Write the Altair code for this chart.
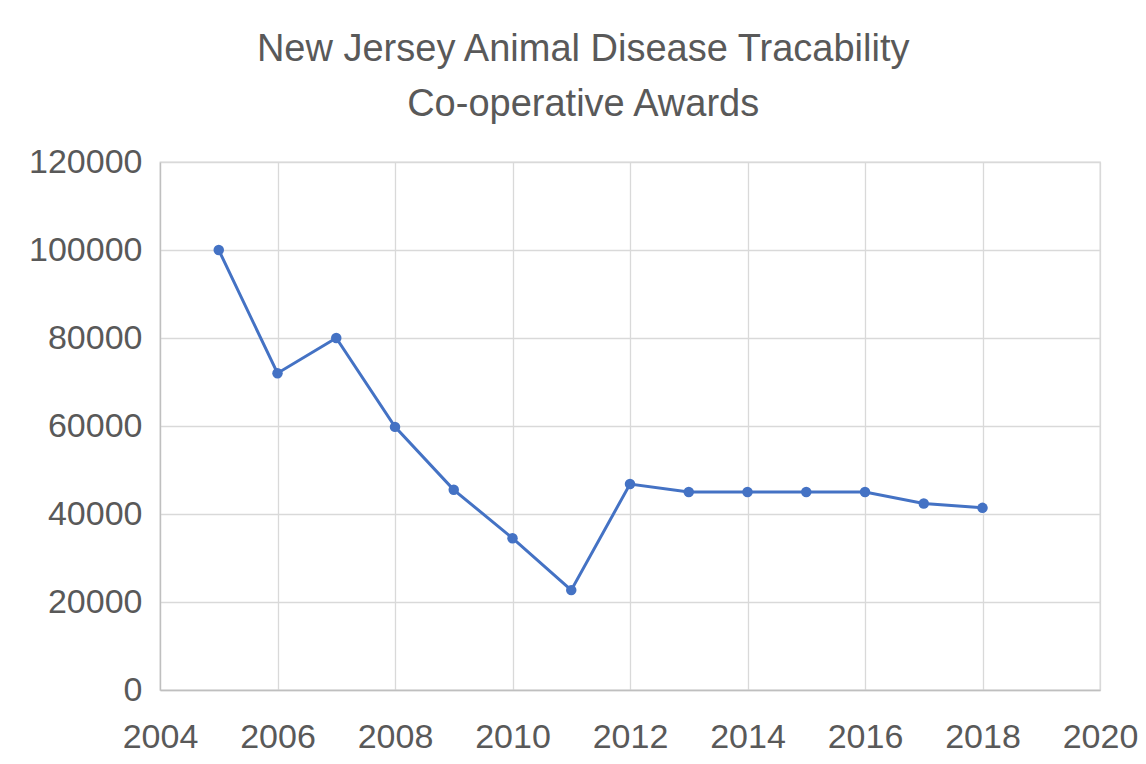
import altair as alt
import pandas as pd

years = [2005, 2006, 2007, 2008, 2009, 2010, 2011, 2012, 2013, 2014, 2015, 2016, 2017, 2018]
awards = [100000, 72000, 80000, 59800, 45500, 34500, 22700, 46800, 45000, 45000, 45000, 45000, 42400, 41400]

df = pd.DataFrame({"year": years, "award": awards})

FONT = "Liberation Sans"
TXT = "#595959"
BLUE = "#4472C4"

x = alt.X("year:Q", scale=alt.Scale(domain=[2004, 2020], nice=False),
          axis=alt.Axis(values=list(range(2004, 2021, 2)), format="d", title=None,
                        grid=True, gridColor="#d9d9d9", gridWidth=1.3,
                        domainColor="#bfbfbf", domainWidth=1.3, ticks=False,
                        labelFont=FONT, labelFontSize=34, labelColor=TXT, labelPadding=30,
                        labelFlush=False))
y = alt.Y("award:Q", scale=alt.Scale(domain=[0, 120000], nice=False),
          axis=alt.Axis(values=list(range(0, 120001, 20000)), format="d", title=None,
                        grid=True, gridColor="#d9d9d9", gridWidth=1.3,
                        domainColor="#bfbfbf", domainWidth=1.3, ticks=False,
                        labelFont=FONT, labelFontSize=34, labelColor=TXT, labelPadding=18))

line = alt.Chart(df).mark_line(color=BLUE, strokeWidth=3).encode(x=x, y=y)
pts = alt.Chart(df).mark_point(color=BLUE, filled=True, opacity=1, size=110).encode(x=x, y=y)

chart = (line + pts).properties(
    width=940, height=528,
    autosize=alt.AutoSizeParams(type="none"),
    padding={"left": 152, "top": 154, "right": 38, "bottom": 68},
    title=alt.TitleParams(
        text=["New Jersey Animal Disease Tracability", "Co-operative Awards"],
        font=FONT, fontSize=38, fontWeight="normal", color=TXT,
        lineHeight=55, anchor="middle", frame="bounds", offset=21,
    ),
).configure_view(stroke="#d9d9d9", strokeWidth=1.3)

chart.save("out.html", embed_options={"renderer": "svg", "actions": False})
